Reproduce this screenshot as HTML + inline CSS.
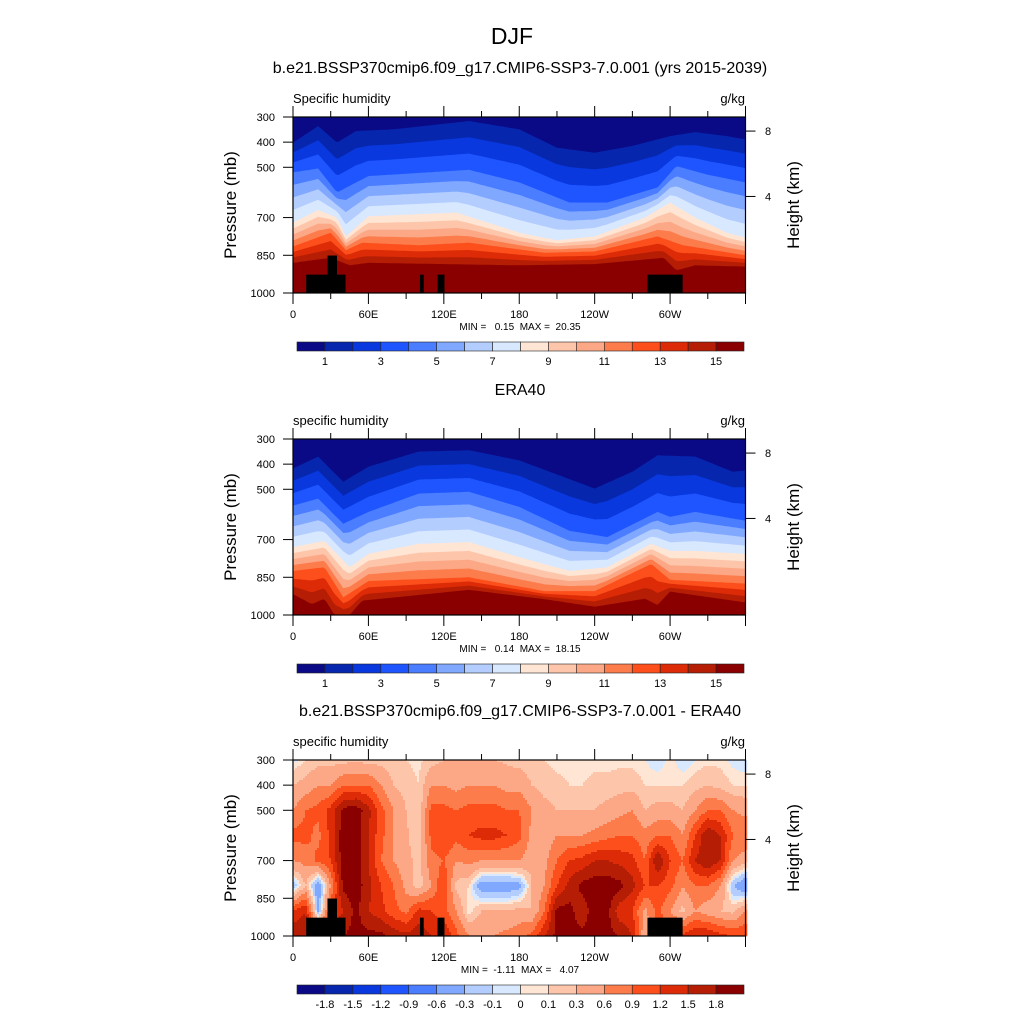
<!DOCTYPE html>
<html><head><meta charset="utf-8">
<style>
body{margin:0;background:#fff;}
svg text{font-family:"Liberation Sans",sans-serif;fill:#000;white-space:pre;}
</style></head>
<body>
<svg id="fig" xmlns="http://www.w3.org/2000/svg" width="1024" height="1024" viewBox="0 0 1024 1024">
<text x="512" y="44" font-size="23" text-anchor="middle">DJF</text>
</svg>
<script>
// ---------- data ----------
const colors16 = ["#0a0a86","#0626ad","#0838de","#1f55ff","#4a7dff","#80a8ff","#b4cdff","#d8e8ff","#ffe5d3","#fdc6ab","#fca887","#fc7c4c","#fc4f1c","#dc2b06","#b51e04","#8a0000"];
const humLabels = ["1","3","5","7","9","11","13","15"];
const diffLevels = [-1.8,-1.5,-1.2,-0.9,-0.6,-0.3,-0.1,0,0.1,0.3,0.6,0.9,1.2,1.5,1.8];
const diffLabels = ["-1.8","-1.5","-1.2","-0.9","-0.6","-0.3","-0.1","0","0.1","0.3","0.6","0.9","1.2","1.5","1.8"];
const anchorLevels = [1,4,8,12,15];

// model: contour pressures (mb) of anchor levels vs longitude
const m1Lon=[0,20,35,50,80,140,180,210,240,270,300,320,345,360];
const m1P=[402,336,402,356,349,316,349,422,442,415,376,360,376,389];
const m4Lon=[0,20,35,60,140,180,220,250,290,305,330,360];
const m4P=[520,505,600,535,510,560,640,640,580,495,530,560];
const m8Lon=[0,20,35,42,60,130,180,210,240,280,300,320,345,360];
const m8P=[720,670,700,775,695,680,760,790,775,700,640,700,760,780];
const m12Lon=[0,30,42,55,100,140,200,240,290,310,360];
const m12P=[815,760,830,800,810,800,840,835,775,810,850];
const m15Lon=[0,30,45,60,180,240,295,305,320,360];
const m15P=[880,860,890,880,890,885,860,910,890,895];

// ERA40
const e1Lon=[0,20,40,60,100,140,180,240,270,290,320,350,360];
const e1P=[417,370,470,410,350,345,385,497,430,365,370,430,425];
const e4Lon=[0,20,40,60,100,140,180,220,250,290,300,320,360];
const e4P=[565,537,637,590,517,510,570,665,690,590,610,590,625];
const e8Lon=[0,25,45,60,100,140,180,220,250,285,300,320,360];
const e8P=[730,705,810,757,717,710,770,825,810,717,745,745,757];
const e12Lon=[0,25,40,60,140,200,240,285,300,360];
const e12P=[825,810,930,865,850,905,905,797,860,875];
const e15Lon=[0,15,25,33,45,55,140,200,240,280,290,300,360];
const e15P=[917,957,935,1000,1000,943,900,937,967,935,960,907,950];

// difference grid
const dLon=[0,10,20,30,40,50,60,70,80,90,100,110,120,130,140,150,160,170,180,190,200,210,220,230,240,250,260,270,280,290,300,310,320,330,340,350,360];
const dPres=[300,400,500,600,700,800,900,1000];
const dVals=[
[-0.05,0.3,0.6,1.0,0.6,-0.3,1.2,1.8],
[0.1,0.4,0.9,1.0,0.7,0.3,1.5,1.8],
[0.2,0.6,1.0,0.8,1.0,-0.6,-0.4,1.5],
[0.2,0.6,1.3,1.3,1.2,0.6,1.2,1.8],
[0.2,0.9,1.9,2.0,2.0,1.9,1.5,1.8],
[0.25,0.9,2.0,2.0,2.0,2.0,1.9,1.9],
[0.2,0.9,1.6,1.5,1.5,1.6,1.5,1.9],
[0.2,0.6,1.0,1.0,0.9,1.2,1.3,1.9],
[0.15,0.3,0.6,0.6,0.6,0.9,1.0,1.7],
[0.1,0.2,0.3,0.35,0.4,0.5,0.8,1.6],
[0.05,0.1,0.1,0.1,0.2,0.15,1.3,1.7],
[0.2,0.6,1.0,1.0,0.8,0.6,1.2,1.5],
[0.3,0.6,1.0,1.2,0.9,1.2,1.0,1.5],
[0.3,0.5,0.9,1.0,0.6,0.2,0.6,1.0],
[0.3,0.6,1.0,1.2,0.7,0.1,0.0,0.6],
[0.3,0.6,1.0,1.3,0.6,-0.5,0.3,0.6],
[0.3,0.6,1.0,1.3,0.6,-0.5,0.3,0.6],
[0.25,0.5,0.9,1.2,0.6,-0.5,0.3,0.7],
[0.2,0.5,0.9,1.0,0.6,-0.4,0.4,0.8],
[0.15,0.3,0.6,0.5,0.4,0.3,0.3,1.0],
[0.1,0.2,0.4,0.4,0.5,0.6,0.9,1.5],
[0.05,0.15,0.3,0.6,0.9,1.2,1.9,1.9],
[0.05,0.1,0.3,0.6,1.2,1.6,1.9,1.9],
[0.05,0.1,0.3,0.6,1.3,1.9,1.6,1.9],
[0.05,0.15,0.3,0.7,1.5,2.0,2.0,1.9],
[0.05,0.15,0.4,0.8,1.5,2.0,1.9,1.9],
[0.05,0.2,0.5,0.9,1.4,1.9,1.3,1.8],
[0.05,0.2,0.6,0.9,1.3,1.6,1.2,1.5],
[0.0,0.1,0.3,0.7,0.9,1.2,0.5,0.3],
[-0.1,0.1,0.4,0.9,1.8,1.2,1.0,1.2],
[0.05,0.1,0.4,0.9,1.2,1.0,0.6,1.2],
[-0.1,0.1,0.3,0.6,0.9,0.6,0.2,1.3],
[0.0,0.2,0.6,1.2,1.5,0.9,0.6,1.5],
[0.05,0.3,0.9,1.8,1.8,0.9,0.4,1.5],
[0.05,0.2,0.9,1.5,1.5,0.6,0.3,1.3],
[-0.05,0.1,0.6,0.9,0.6,-0.3,0.2,1.2],
[-0.1,0.1,0.5,0.9,0.4,-0.6,0.6,1.2]];

// topography blocks: [lonStart, lonEnd, topPressure]
const topoLon0=[10.5,27.5,101,115,282];
const topoLon1=[41.8,35,104,120.5,310];
const topoTop=[927,851,927,927,927];

const lonTicks=[0,60,120,180,240,300];
const lonTickLabels=["0","60E","120E","180","120W","60W"];
const presTicks=[300,400,500,700,850,1000];
const htTicks=[8,4];
const htTickPres=[356,616];

// ---------- drawing ----------
const NS="http://www.w3.org/2000/svg";
const svg=document.getElementById('fig');
const X0=293,X1=745.5,H=176;
function mk(tag,attrs,parent){const e=document.createElementNS(NS,tag);for(const k in attrs)e.setAttribute(k,attrs[k]);(parent||svg).appendChild(e);return e;}
function interp(xs,ys,x){if(x<=xs[0])return ys[0];for(let i=1;i<xs.length;i++){if(x<=xs[i]){const t=(x-xs[i-1])/(xs[i]-xs[i-1]);return ys[i-1]+t*(ys[i]-ys[i-1]);}}return ys[ys.length-1];}
function xs(lon){return X0+(X1-X0)*lon/360;}
function ys(top,p){return top+H*(p-300)/700;}

function contourPanel(top,anchors,name){
  const g=mk('g',{});
  
  
  const bg=mk('rect',{x:X0,y:top,width:X1-X0,height:H,fill:colors16[0]},g);
  
  
  for(let k=1;k<=15;k++){
    let a=0;while(a<anchorLevels.length-2&&k>anchorLevels[a+1])a++;
    const la=anchorLevels[a],lb=anchorLevels[a+1];
    const t=(k-la)/(lb-la);
    let pts=[];
    for(let lon=0;lon<=360;lon+=2){
      const pa=interp(anchors[a][0],anchors[a][1],lon),pb=interp(anchors[a+1][0],anchors[a+1][1],lon);
      let p=Math.min(1000,pa+(pb-pa)*t);
      pts.push(xs(lon).toFixed(1)+','+ys(top,p).toFixed(1));
    }
    pts.push(X1+','+(top+H));pts.push(X0+','+(top+H));
    const pg=mk('polygon',{points:pts.join(' '),fill:colors16[k]},g);
    
    
  }
}
function diffPanel(top){
  const g=mk('g',{});
  
  
  const step=2;
  for(let px=X0;px<X1;px+=step){
    const lon=(px+step/2-X0)/(X1-X0)*360;
    let i=Math.min(Math.floor(lon/10),dLon.length-2);const tx=(lon-dLon[i])/10;
    for(let py=top;py<top+H;py+=step){
      const p=300+(py+step/2-top)/H*700;
      let j=Math.min(Math.floor((p-300)/100),dPres.length-2);const ty=(p-dPres[j])/100;
      const v=(1-tx)*(1-ty)*dVals[i][j]+tx*(1-ty)*dVals[i+1][j]+(1-tx)*ty*dVals[i][j+1]+tx*ty*dVals[i+1][j+1];
      let c=0;while(c<15&&v>=diffLevels[c])c++;
      const r=mk('rect',{x:px,y:py,width:step+0.3,height:step+0.3,fill:colors16[c]},g);
      
      
    }
  }
}
function topo(top){
  for(let i=0;i<topoLon0.length;i++){
    const r=mk('rect',{x:xs(topoLon0[i]),y:ys(top,topoTop[i]),width:xs(topoLon1[i])-xs(topoLon0[i]),height:ys(top,1000)-ys(top,topoTop[i]),fill:'#000'});
    
    
  }
}
function axes(top,title,left,minmax,cbLabels,every){
  if(title){const t=mk('text',{x:520,y:top-44,'font-size':16,'text-anchor':'middle'});t.textContent=title;
    }
  const l=mk('text',{x:293,y:top-14,'font-size':13});l.textContent=left;
  
  const u=mk('text',{x:745,y:top-14,'font-size':13,'text-anchor':'end'});u.textContent='g/kg';
  
  const fr=mk('rect',{x:X0,y:top,width:X1-X0,height:H,fill:'none',stroke:'#000','stroke-width':1.2});
  
  for(let lon=0;lon<=360;lon+=30){
    const len=lon%60===0?11:6,x=xs(lon);
    mk('line',{x1:x,x2:x,y1:top,y2:top-len,stroke:'#000'});
    mk('line',{x1:x,x2:x,y1:top+H,y2:top+H+len,stroke:'#000'});
  }
  lonTicks.forEach((lon,i)=>{const t=mk('text',{x:xs(lon),y:top+H+25,'font-size':11,'text-anchor':'middle'});t.textContent=lonTickLabels[i];
    });
  presTicks.forEach(p=>{const y=ys(top,p);mk('line',{x1:X0,x2:X0-10,y1:y,y2:y,stroke:'#000'});
    const t=mk('text',{x:275,y:y+4,'font-size':11,'text-anchor':'end'});t.textContent=p;
    });
  htTicks.forEach((h,i)=>{const y=ys(top,htTickPres[i]);mk('line',{x1:X1,x2:X1+10,y1:y,y2:y,stroke:'#000'});
    const t=mk('text',{x:765,y:y+4,'font-size':11});t.textContent=h;
    });
  const yt=mk('text',{x:0,y:0,'font-size':17,'text-anchor':'middle',transform:`translate(236,${top+H/2}) rotate(-90)`});yt.textContent='Pressure (mb)';
  
  const ht=mk('text',{x:0,y:0,'font-size':17,'text-anchor':'middle',transform:`translate(799,${top+H/2}) rotate(-90)`});ht.textContent='Height (km)';
  
  const mm=mk('text',{x:520,y:top+H+37,'font-size':10,'text-anchor':'middle'});mm.textContent=minmax;
  
  // colorbar
  const cy=top+225,cx0=297,cw=(744-297)/16;
  for(let i=0;i<16;i++){const r=mk('rect',{x:cx0+i*cw,y:cy,width:cw,height:9,fill:colors16[i],stroke:'#222','stroke-width':0.6});
    }
  cbLabels.forEach((s,i)=>{const k=1+i*every;const t=mk('text',{x:cx0+k*cw,y:cy+23,'font-size':11,'text-anchor':'middle'});t.textContent=s;
    });
}
const T1=117,T2=439,T3=760;
contourPanel(T1,[[m1Lon,m1P],[m4Lon,m4P],[m8Lon,m8P],[m12Lon,m12P],[m15Lon,m15P]],'model');
topo(T1);
axes(T1,'b.e21.BSSP370cmip6.f09_g17.CMIP6-SSP3-7.0.001 (yrs 2015-2039)','Specific humidity','MIN =   0.15  MAX =  20.35',humLabels,2);
contourPanel(T2,[[e1Lon,e1P],[e4Lon,e4P],[e8Lon,e8P],[e12Lon,e12P],[e15Lon,e15P]],'era40');
axes(T2,'ERA40','specific humidity','MIN =   0.14  MAX =  18.15',humLabels,2);
diffPanel(T3);
topo(T3);
axes(T3,'b.e21.BSSP370cmip6.f09_g17.CMIP6-SSP3-7.0.001 - ERA40','specific humidity','MIN =  -1.11  MAX =   4.07',diffLabels,1);
</script>
</body></html>
